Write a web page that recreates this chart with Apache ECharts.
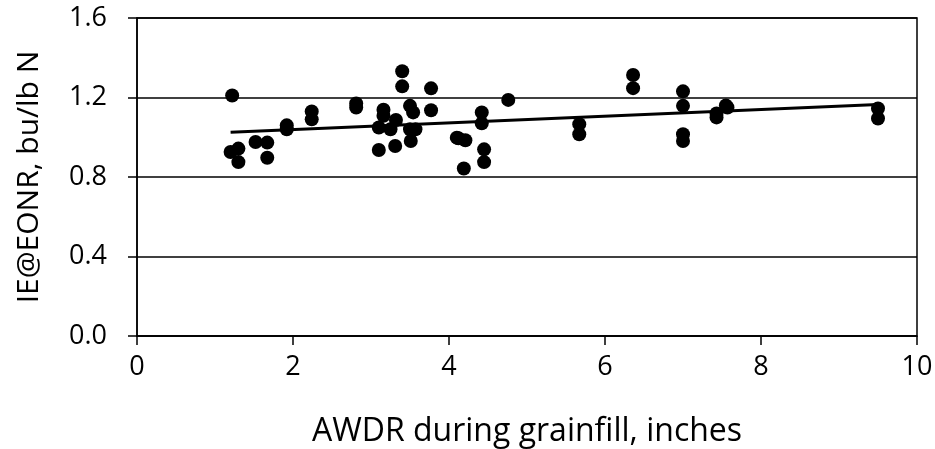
<!DOCTYPE html>
<html>
<head>
<meta charset="utf-8">
<script src="https://cdn.jsdelivr.net/npm/echarts@6/dist/echarts.min.js"></script>
<style>
html, body {margin: 0; padding: 0; background: #fff;}
#chart {width: 935px; height: 449px;}
</style>
</head>
<body>
<div id="chart"></div>
<script>
// AWDR during grainfill (inches)
var awdr = [1.22, 1.20, 1.30, 1.30, 1.52, 1.67, 1.67, 1.92, 1.92, 2.24, 2.24,
    2.81, 2.81, 3.10, 3.10, 3.16, 3.16, 3.25, 3.32, 3.31, 3.40, 3.40, 3.50, 3.54,
    3.50, 3.57, 3.51, 3.77, 3.77, 4.10, 4.12, 4.21, 4.19, 4.42, 4.42, 4.45, 4.45,
    4.76, 5.67, 5.67, 6.36, 6.36, 7.00, 7.00, 7.00, 7.00, 7.43, 7.43, 7.55, 7.57,
    9.50, 9.50];
// IE@EONR (bu/lb N)
var ie = [1.21, 0.926, 0.943, 0.875, 0.976, 0.973, 0.897, 1.04, 1.06, 1.13, 1.09,
    1.15, 1.17, 0.936, 1.049, 1.138, 1.108, 1.04, 1.087, 0.956, 1.332, 1.256, 1.158, 1.125,
    1.04, 1.04, 0.981, 1.246, 1.136, 0.998, 0.995, 0.985, 0.843, 1.125, 1.07, 0.939, 0.875,
    1.188, 1.066, 1.015, 1.313, 1.247, 1.231, 1.158, 1.015, 0.981, 1.10, 1.12, 1.16, 1.15,
    1.145, 1.094];
// linear trend, end points
var trendX = [1.2, 9.5];
var trendY = [1.025, 1.165];

var pts = [];
for (var i = 0; i < awdr.length; i++) {
    pts.push([awdr[i], ie[i]]);
}
var trend = [];
for (var j = 0; j < trendX.length; j++) {
    trend.push([trendX[j], trendY[j]]);
}

var font = 'Open Sans';
var chart = echarts.init(document.getElementById('chart'));
var option = {
    animation: false,
    grid: {
        left: 137, right: 18, top: 18, bottom: 113,
        containLabel: false, outerBoundsMode: 'none',
        show: true, borderColor: '#000', borderWidth: 1.5
    },
    xAxis: {
        type: 'value',
        min: 0, max: 10, interval: 2,
        name: 'AWDR during grainfill, inches',
        nameLocation: 'middle',
        nameGap: 80,
        nameTextStyle: {fontFamily: font, fontSize: 32, color: '#000'},
        axisLine: {lineStyle: {color: '#000', width: 1.5}},
        axisTick: {show: true, length: 9, lineStyle: {color: '#000', width: 1.5}},
        axisLabel: {fontFamily: font, fontSize: 27, color: '#000', margin: 18},
        splitLine: {show: false}
    },
    yAxis: {
        type: 'value',
        min: 0, max: 1.6, interval: 0.4,
        name: 'IE@EONR, bu/lb N',
        nameLocation: 'middle',
        nameGap: 93,
        nameTextStyle: {fontFamily: font, fontSize: 30, color: '#000'},
        axisLine: {show: true, lineStyle: {color: '#000', width: 1.5}},
        axisTick: {show: true, length: 9, lineStyle: {color: '#000', width: 1.5}},
        axisLabel: {
            fontFamily: font, fontSize: 27, color: '#000', margin: 30,
            formatter: function (v) { return v.toFixed(1); }
        },
        splitLine: {show: true, lineStyle: {color: '#000', width: 1.5}}
    },
    series: [{
        type: 'scatter',
        data: pts,
        symbol: 'circle',
        symbolSize: 14,
        itemStyle: {color: '#000', opacity: 1}
    }, {
        type: 'line',
        data: trend,
        showSymbol: false,
        lineStyle: {color: '#000', width: 3},
        z: 3
    }]
};
chart.setOption(option);
</script>
</body>
</html>
